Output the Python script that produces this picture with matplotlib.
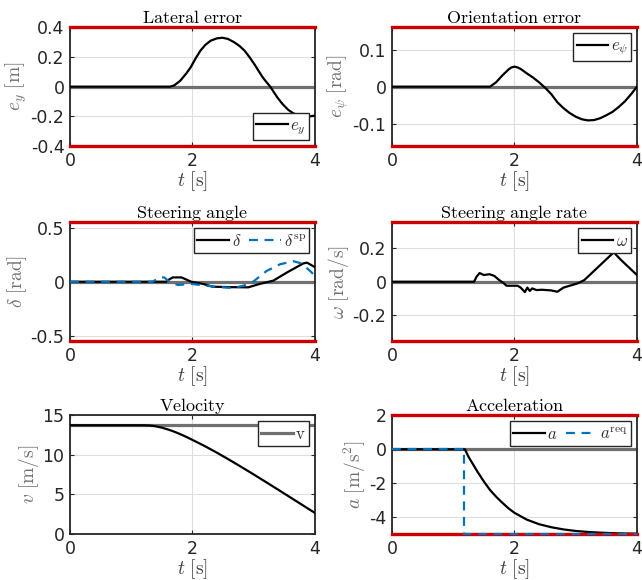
#!/usr/bin/env python3
"""
Controller response plots: tracking errors, steering and longitudinal signals.
"""

import matplotlib
matplotlib.use('Agg')
import matplotlib.pyplot as plt
from matplotlib.ticker import FuncFormatter

plt.rcParams['mathtext.fontset'] = 'cm'
plt.rcParams['axes.unicode_minus'] = False
plt.rcParams['font.family'] = ['DejaVu Sans']

# Lateral error
t_ey = [0, 1.63, 1.7, 1.8, 1.9, 1.97, 2.05, 2.13, 2.21, 2.3, 2.4, 2.49, 2.58, 2.68,
        2.77, 2.85, 2.93, 3.01, 3.08, 3.15, 3.21, 3.27, 3.33, 3.39, 3.47, 3.56,
        3.64, 3.72, 3.78, 3.83, 3.92, 4.0]
ey = [0, 0, 0.008, 0.04, 0.09, 0.13, 0.19, 0.243, 0.282, 0.311, 0.326, 0.33, 0.322,
      0.30, 0.274, 0.243, 0.2, 0.152, 0.106, 0.061, 0.03, 0.0, -0.038, -0.075,
      -0.117, -0.155, -0.178, -0.193, -0.199, -0.202, -0.2, -0.195]

# Orientation error
t_epsi = [0, 1.6, 1.7, 1.8, 1.9, 1.95, 2.0, 2.05, 2.1, 2.2, 2.3, 2.4, 2.5, 2.6, 2.7,
          2.8, 2.9, 3.0, 3.1, 3.2, 3.3, 3.4, 3.5, 3.6, 3.7, 3.8, 3.9, 4.0]
epsi = [0, 0, 0.012, 0.03, 0.046, 0.052, 0.054, 0.052, 0.048, 0.036, 0.025, 0.012,
        -0.003, -0.02, -0.042, -0.058, -0.071, -0.081, -0.088, -0.091, -0.09,
        -0.085, -0.077, -0.068, -0.055, -0.04, -0.021, 0.0]

# Steering angle and its set point
t_delta = [0, 1.57, 1.63, 1.68, 1.82, 1.9, 1.98, 2.17, 2.33, 2.6, 2.91, 3.1, 3.32,
           3.54, 3.81, 3.87, 4.0]
delta = [0, 0, 0.025, 0.04, 0.04, 0.02, 0.0, -0.02, -0.046, -0.05, -0.052, -0.02,
         0.01, 0.085, 0.17, 0.177, 0.135]
t_delta_sp = [0, 1.35, 1.42, 1.46, 1.54, 1.62, 1.76, 1.98, 2.22, 2.45, 2.66, 2.83,
              2.99, 3.21, 3.43, 3.65, 3.78, 3.92, 4.0]
delta_sp = [0, 0, 0.025, 0.04, 0.04, 0.0, -0.03, -0.02, -0.037, -0.05, -0.058,
            -0.037, 0.0, 0.1, 0.162, 0.19, 0.17, 0.1, 0.055]

# Steering angle rate
t_omega = [0, 1.34, 1.38, 1.43, 1.5, 1.59, 1.67, 1.75, 1.81, 1.87, 2.05, 2.1, 2.17,
           2.21, 2.25, 2.29, 2.36, 2.45, 2.6, 2.7, 2.8, 3.03, 3.14, 3.62, 3.74, 4.0]
omega = [0, 0, 0.03, 0.052, 0.04, 0.045, 0.035, 0.01, -0.005, -0.024, -0.024,
         -0.035, -0.062, -0.035, -0.055, -0.04, -0.05, -0.048, -0.052, -0.06,
         -0.035, -0.01, 0.01, 0.176, 0.13, 0.04]

# Velocity
v_ref = 13.75
t_v = [0, 1.2, 1.3, 1.4, 1.5, 1.6, 1.7, 1.8, 1.9, 2.0, 2.2, 2.4, 2.6, 2.8, 3.0,
       3.2, 3.4, 3.6, 3.8, 4.0]
v = [13.75, 13.75, 13.72, 13.62, 13.45, 13.22, 12.95, 12.63, 12.28, 11.9, 11.12,
     10.28, 9.39, 8.47, 7.53, 6.57, 5.6, 4.62, 3.64, 2.66]

# Acceleration and requested acceleration
t_a = [0, 1.19, 1.25, 1.3, 1.4, 1.5, 1.6, 1.7, 1.8, 1.9, 2.0, 2.2, 2.4, 2.6, 2.8,
       3.0, 3.2, 3.4, 3.6, 3.8, 4.0]
a = [0, 0, -0.45, -0.75, -1.35, -1.9, -2.4, -2.8, -3.15, -3.48, -3.75, -4.15,
     -4.42, -4.6, -4.73, -4.82, -4.88, -4.92, -4.95, -4.97, -4.98]
t_a_req = [0, 1.17, 1.17, 4.0]
a_req = [0, 0, -5, -5]

BLACK = '#000000'
BLUE = '#0072BD'
RED = '#CC0000'
GRAY = '#707070'
DARK = '#262626'


def style_axes(ax, ylim, yticks, title, ylabel, limits=True, zero=True):
    ax.set_xlim(0, 4)
    ax.set_ylim(*ylim)
    ax.set_xticks([0, 2, 4])
    ax.set_yticks(yticks)
    ax.yaxis.set_major_formatter(FuncFormatter(lambda x, p: f'{x:g}'))
    ax.grid(True, color='#dedede', linewidth=0.8)
    ax.set_axisbelow(True)
    for s in ax.spines.values():
        s.set_color(DARK)
        s.set_linewidth(1.3)
    ax.tick_params(direction='in', length=3, width=0.8, colors=DARK,
                   labelsize=12.5, top=True, right=True, pad=4)
    ax.set_title(title, fontsize=13, pad=3)
    ax.set_xlabel(r'$t\ [\mathrm{s}]$', fontsize=14, color='#404040', labelpad=0)
    ax.set_ylabel(ylabel, fontsize=14, color='#707070', labelpad=1)
    if zero:
        ax.axhline(0, color=GRAY, linewidth=2.3, zorder=1.5)
    if limits:
        for yl in ylim:
            ax.axhline(yl, color=RED, linewidth=2.4, clip_on=False, zorder=5)


def add_legend(ax, loc, ncol=1):
    leg = ax.legend(loc=loc, ncol=ncol, fontsize=12, frameon=True, fancybox=False,
                    framealpha=1, edgecolor=DARK, handlelength=1.9,
                    handletextpad=0.15, columnspacing=0.5, borderpad=0.2,
                    borderaxespad=0.35)
    leg.get_frame().set_linewidth(1.0)
    for txt in leg.get_texts():
        txt.set_color('#303030')


fig = plt.figure(figsize=(6.42, 5.8), dpi=100)
lx, rx, w = 0.109, 0.6106, 0.3816
rows = [0.7483, 0.412, 0.0793]
h = 0.2045

ax1 = fig.add_axes([lx, rows[0], w, h])
ax1.plot(t_ey, ey, color=BLACK, linewidth=1.6, label=r'$e_y$', zorder=3)
style_axes(ax1, (-0.4, 0.4), [-0.4, -0.2, 0, 0.2, 0.4],
           r'$\mathrm{Lateral\ error}$', r'$e_y\ [\mathrm{m}]$')
add_legend(ax1, 'lower right')

ax2 = fig.add_axes([rx, rows[0], w, h])
ax2.plot(t_epsi, epsi, color=BLACK, linewidth=1.6, label=r'$e_\psi$', zorder=3)
style_axes(ax2, (-0.16, 0.16), [-0.1, 0, 0.1],
           r'$\mathrm{Orientation\ error}$', r'$e_\psi\ [\mathrm{rad}]$')
add_legend(ax2, 'upper right')

ax3 = fig.add_axes([lx, rows[1], w, h])
ax3.plot(t_delta, delta, color=BLACK, linewidth=1.6, label=r'$\delta$', zorder=3)
ax3.plot(t_delta_sp, delta_sp, color=BLUE, linewidth=1.6, linestyle=(0, (4, 3)),
         label=r'$\delta^{\mathrm{sp}}$', zorder=3)
style_axes(ax3, (-0.55, 0.55), [-0.5, 0, 0.5],
           r'$\mathrm{Steering\ angle}$', r'$\delta\ [\mathrm{rad}]$')
add_legend(ax3, 'upper right', ncol=2)

ax4 = fig.add_axes([rx, rows[1], w, h])
ax4.plot(t_omega, omega, color=BLACK, linewidth=1.6, label=r'$\omega$', zorder=3)
style_axes(ax4, (-0.355, 0.355), [-0.2, 0, 0.2],
           r'$\mathrm{Steering\ angle\ rate}$', r'$\omega\ [\mathrm{rad/s}]$')
add_legend(ax4, 'upper right')

ax5 = fig.add_axes([lx, rows[2], w, h])
ax5.axhline(v_ref, color=GRAY, linewidth=2.3, zorder=1.5, label=r'$\mathrm{v}$')
ax5.plot(t_v, v, color=BLACK, linewidth=1.6, zorder=3)
style_axes(ax5, (0, 15), [0, 5, 10, 15],
           r'$\mathrm{Velocity}$', r'$v\ [\mathrm{m/s}]$', limits=False, zero=False)
add_legend(ax5, 'upper right')

ax6 = fig.add_axes([rx, rows[2], w, h])
ax6.plot(t_a, a, color=BLACK, linewidth=1.6, label=r'$a$', zorder=3)
ax6.plot(t_a_req, a_req, color=BLUE, linewidth=1.6, linestyle=(0, (4, 3)),
         label=r'$a^{\mathrm{req}}$', zorder=6, clip_on=False)
style_axes(ax6, (-5, 2), [-4, -2, 0, 2],
           r'$\mathrm{Acceleration}$', r'$a\ [\mathrm{m/s^2}]$')
add_legend(ax6, 'upper right', ncol=2)

fig.savefig('out.png', dpi=100)
